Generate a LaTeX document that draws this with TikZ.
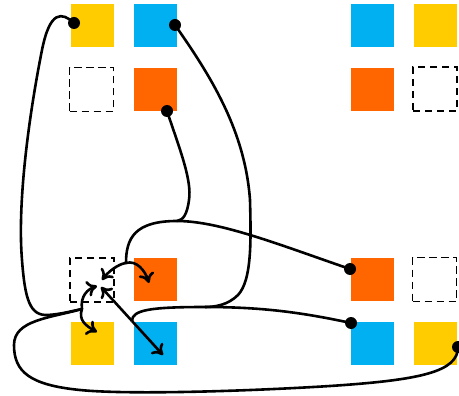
\documentclass[tikz,border=0pt]{standalone}
\usepackage{xcolor}
\usepackage{tikz}
\usetikzlibrary{arrows.meta}

\definecolor{pcyellow}{HTML}{FFCC00}
\definecolor{pcblue}{HTML}{00B0F0}
\definecolor{pcorange}{HTML}{FF6600}

\begin{document}
\begin{tikzpicture}[
    x=0.5pt, y=-0.5pt,
    piece/.style={rectangle, minimum size=21.5pt, inner sep=0pt},
    hole/.style={rectangle, draw, minimum size=22pt, inner sep=0pt, line width=0.9pt, dash pattern=on 3.6pt off 2.4pt},
    dot/.style={circle, fill, inner sep=0pt, minimum size=6pt},
    link/.style={line width=1.3pt},
    arrow/.style={link, -{To[length=5pt, width=8pt]}}
]
    \useasboundingbox (0,0) rectangle (459,395);

    % upper left
    \node[piece, fill=pcyellow] (yel1) at (92.5,26) {};
    \node[piece, fill=pcblue] (blu1) at (155.5,26) {};
    \node[hole] (hole1) at (91.5,89.5) {};
    \node[piece, fill=pcorange] (ora1) at (155.5,89.5) {};
    % upper right
    \node[piece, fill=pcblue] (blu2) at (372,26) {};
    \node[piece, fill=pcyellow] (yel2) at (435.5,26) {};
    \node[piece, fill=pcorange] (ora2) at (372,89.5) {};
    \node[hole] (hole2) at (435,89) {};
    % lower left
    \node[hole] (hole3) at (92,280) {};
    \node[piece, fill=pcorange] (ora3) at (155.5,279.5) {};
    \node[piece, fill=pcyellow] (yel3) at (92.5,343.5) {};
    \node[piece, fill=pcblue] (blu3) at (155.5,343.5) {};
    % lower right
    \node[piece, fill=pcorange] (ora4) at (372,279.5) {};
    \node[hole] (hole4) at (434.5,279.5) {};
    \node[piece, fill=pcblue] (blu4) at (372,343.5) {};
    \node[piece, fill=pcyellow] (yel4) at (435.5,343.5) {};

    \node[dot] (ysrc1) at (74,23) {};
    \node[dot] (ysrc2) at (458,347) {};
    \node[dot] (bsrc1) at (175,25) {};
    \node[dot] (bsrc2) at (351,323) {};
    \node[dot] (osrc1) at (167,111) {};
    \node[dot] (osrc2) at (350,269) {};

    \coordinate (ymerge) at (82,309);
    \coordinate (yend1) at (97,286);
    \coordinate (yend2) at (97,332);
    \coordinate (omerge) at (177,221);
    \coordinate (osplit) at (126,263);
    \coordinate (oend1) at (102,280);
    \coordinate (oend2) at (149,283);
    \coordinate (bmerge) at (205,307);
    \coordinate (bsplit) at (132,321);
    \coordinate (bend1) at (101,287);
    \coordinate (bend2) at (163,355);

    % yellow
    \draw[link] (ysrc1.center) .. controls (62,12) and (50,10) .. (42,50)
        .. controls (30,110) and (17,200) .. (22,260)
        .. controls (25,300) and (30,316) .. (48,315)
        .. controls (62,314) and (72,311) .. (ymerge);
    \draw[link] (ysrc2.center) .. controls (458,372) and (420,380) .. (330,386)
        .. controls (250,391) and (130,395) .. (80,390)
        .. controls (30,385) and (14,372) .. (14,345)
        .. controls (14,320) and (50,318) .. (ymerge);
    \draw[arrow] (ymerge) .. controls (80,296) and (88,289) .. (yend1);
    \draw[arrow] (ymerge) .. controls (78,320) and (86,326) .. (yend2);

    % orange
    \draw[link] (osrc1.center) .. controls (180,150) and (192,180) .. (189,200)
        .. controls (187,215) and (183,220) .. (omerge);
    \draw[link] (osrc2.center) .. controls (280,245) and (220,221) .. (omerge);
    \draw[link] (omerge) .. controls (135,221) and (126,238) .. (osplit);
    \draw[arrow] (osplit) .. controls (118,264) and (108,272) .. (oend1);
    \draw[arrow] (osplit) .. controls (136,260) and (145,270) .. (oend2);

    % blue
    \draw[link] (bsrc1.center) .. controls (210,75) and (245,130) .. (250,200)
        .. controls (251,240) and (252,280) .. (238,295)
        .. controls (228,305) and (215,307) .. (bmerge);
    \draw[link] (bsrc2.center) .. controls (300,312) and (260,307) .. (bmerge);
    \draw[link] (bmerge) .. controls (150,307) and (132,310) .. (bsplit);
    \draw[arrow] (bsplit) -- (bend1);
    \draw[arrow] (bsplit) -- (bend2);
\end{tikzpicture}
\end{document}
